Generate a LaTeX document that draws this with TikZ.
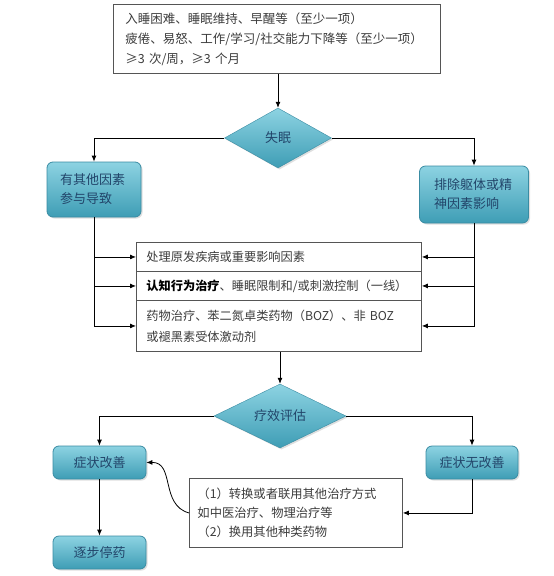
\documentclass[tikz,border=0pt]{standalone}
\usepackage{fontspec}
\setmainfont{Noto Sans CJK SC}
\usetikzlibrary{shapes.geometric,arrows.meta,shadows}

\definecolor{tealtop}{HTML}{8DD3E2}
\definecolor{tealbot}{HTML}{3E9DB5}
\definecolor{tealedge}{HTML}{3A8CA3}
\definecolor{tealtext}{HTML}{22456A}
\definecolor{greytext}{HTML}{3C3C3C}
\definecolor{frame}{HTML}{555555}

\begin{document}
\begin{tikzpicture}[x=1pt,y=-1pt,
  every node/.style={font=\fontsize{12.5}{20}\selectfont},
  arr/.style={line width=0.8pt,-{Latex[length=6pt,width=5pt]}},
  ln/.style={line width=0.8pt},
  plainbox/.style={draw=frame, line width=0.9pt, anchor=north west, align=left, text=greytext, inner ysep=0pt},
  rowbox/.style={plainbox, text width=265pt, inner xsep=10pt, font=\fontsize{12.2}{21}\selectfont},
  tealbox/.style={draw=tealedge, line width=0.8pt, rounded corners=6pt,
     top color=tealtop, bottom color=tealbot, text=tealtext,
     font=\fontsize{13}{19}\selectfont, inner sep=0pt,
     drop shadow={opacity=0.25,shadow xshift=1.5pt,shadow yshift=-1.5pt}},
  tealdiam/.style={shape=diamond, draw=tealedge, line width=0.4pt,
     top color=tealtop, bottom color=tealbot, text=tealtext,
     font=\fontsize{13}{19}\selectfont, inner sep=0pt,
     drop shadow={opacity=0.25,shadow xshift=1.5pt,shadow yshift=-1.5pt}}
]
\useasboundingbox[fill=white] (0,0) rectangle (554,576);

% top criteria box
\node[plainbox, text width=303pt, inner xsep=12pt, minimum height=69pt] (top) at (113,4)
  {入睡困难、睡眠维持、早醒等（至少一项）\\疲倦、易怒、工作/学习/社交能力下降等（至少一项）\\≥3 次/周，≥3 个月};

% diamond 1
\node[tealdiam, minimum width=107pt, minimum height=60pt] (d1) at (278,138) {失眠};

% side boxes
\node[tealbox, minimum width=94pt, minimum height=55pt, text width=68pt, align=left] (lb) at (94,189.5) {有其他因素\\参与导致};
\node[tealbox, minimum width=109pt, minimum height=57pt, text width=80pt, align=left] (rb) at (474,194.5) {排除躯体或精\\神因素影响};

% middle stacked box
\node[rowbox, minimum height=29pt] (r1) at (136,242) {处理原发疾病或重要影响因素};
\node[rowbox, minimum height=29pt] (r2) at (136,271) {{\bfseries\color{black}认知行为治疗}、睡眠限制和/或刺激控制（一线）};
\node[rowbox, minimum height=51pt] (r3) at (136,300) {药物治疗、苯二氮卓类药物（BOZ）、非 BOZ\\或褪黑素受体激动剂};

% diamond 2
\node[tealdiam, minimum width=132pt, minimum height=63pt] (d2) at (280,416) {疗效评估};

% outcome boxes
\node[tealbox, minimum width=93pt, minimum height=33pt] (g1) at (99.5,462.5) {症状改善};
\node[tealbox, minimum width=92pt, minimum height=33pt] (g2) at (472,462.5) {症状无改善};
\node[tealbox, minimum width=93pt, minimum height=33pt] (g3) at (99.5,552.5) {逐步停药};

% alternative treatment box
\node[plainbox, text width=197pt, inner xsep=8pt, minimum height=69pt, font=\fontsize{12.3}{19}\selectfont] (bb) at (189,478)
  {（1）转换或者联用其他治疗方式\\如中医治疗、物理治疗等\\（2）换用其他种类药物};

% connectors
\draw[arr] (d1.north |- top.south) -- (d1.north);
\draw[arr] (d1.west) -| (lb.north);
\draw[arr] (d1.east) -| (rb.north);

\draw[arr] (lb.south) |- (r3.west);
\draw[arr] (lb.south |- r1.west) -- (r1.west);
\draw[arr] (lb.south |- r2.west) -- (r2.west);

\draw[arr] (rb.south) |- (r3.east);
\draw[arr] (rb.south |- r1.east) -- (r1.east);
\draw[arr] (rb.south |- r2.east) -- (r2.east);

\draw[arr] (r3.south -| d2.north) -- (d2.north);
\draw[arr] (d2.west) -| (g1.north);
\draw[arr] (d2.east) -| (g2.north);
\draw[arr] (g1.south) -- (g3.north);
\draw[arr] (g2.south) |- (bb.east);
\draw[arr] (bb.west) .. controls (160,505) and (175,462) .. (g1.east);
\end{tikzpicture}
\end{document}
